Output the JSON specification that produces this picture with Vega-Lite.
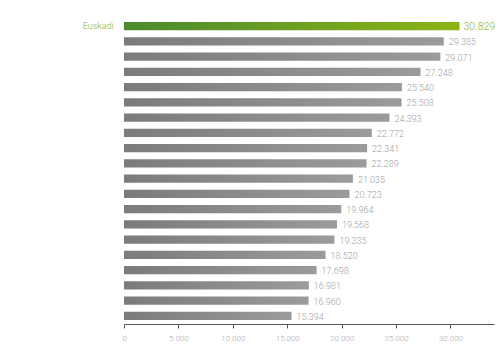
{
  "$schema": "https://vega.github.io/schema/vega-lite/v6.json",
  "width": 370,
  "height": 306,
  "autosize": "none",
  "padding": {"left": 124, "top": 18, "right": 8, "bottom": 32},
  "background": "white",
  "config": {"view": {"stroke": null}, "font": "Roboto"},
  "data": {"values": [
    {"rank": 1, "name": "Euskadi", "value": 30829, "label": "30.829"},
    {"rank": 2, "name": "", "value": 29385, "label": "29.385"},
    {"rank": 3, "name": "", "value": 29071, "label": "29.071"},
    {"rank": 4, "name": "", "value": 27248, "label": "27.248"},
    {"rank": 5, "name": "", "value": 25540, "label": "25.540"},
    {"rank": 6, "name": "", "value": 25508, "label": "25.508"},
    {"rank": 7, "name": "", "value": 24393, "label": "24.393"},
    {"rank": 8, "name": "", "value": 22772, "label": "22.772"},
    {"rank": 9, "name": "", "value": 22341, "label": "22.341"},
    {"rank": 10, "name": "", "value": 22289, "label": "22.289"},
    {"rank": 11, "name": "", "value": 21035, "label": "21.035"},
    {"rank": 12, "name": "", "value": 20723, "label": "20.723"},
    {"rank": 13, "name": "", "value": 19964, "label": "19.964"},
    {"rank": 14, "name": "", "value": 19568, "label": "19.568"},
    {"rank": 15, "name": "", "value": 19335, "label": "19.335"},
    {"rank": 16, "name": "", "value": 18520, "label": "18.520"},
    {"rank": 17, "name": "", "value": 17698, "label": "17.698"},
    {"rank": 18, "name": "", "value": 16981, "label": "16.981"},
    {"rank": 19, "name": "", "value": 16960, "label": "16.960"},
    {"rank": 20, "name": "", "value": 15394, "label": "15.394"}
  ]},
  "encoding": {
    "y": {
      "field": "rank", "type": "ordinal", "sort": "ascending",
      "scale": {"paddingInner": 0.45, "paddingOuter": 0.26},
      "axis": {
        "title": null, "domain": false, "ticks": false,
        "labelExpr": "datum.value == 1 ? 'Euskadi' : ''",
        "labelColor": "#8db52a", "labelFontSize": 9, "labelFontWeight": 300,
        "labelPadding": 11, "labelFont": "Roboto"
      }
    },
    "x": {
      "field": "value", "type": "quantitative",
      "scale": {"domain": [0, 34000], "nice": false},
      "axis": {
        "title": null, "grid": false,
        "values": [0, 5000, 10000, 15000, 20000, 25000, 30000],
        "labelExpr": "replace(format(datum.value, ',d'), ',', '.')",
        "domainColor": "#555555", "tickColor": "#555555", "tickSize": 4,
        "labelColor": "#aaaaaa", "labelFontSize": 8, "labelFontWeight": 300,
        "labelPadding": 6, "labelFlush": false
      }
    }
  },
  "layer": [
    {
      "transform": [{"filter": "datum.rank != 1"}],
      "mark": {
        "type": "bar",
        "color": {"gradient": "linear", "x1": 0, "x2": 1, "y1": 0, "y2": 0,
          "stops": [{"offset": 0, "color": "#7b7b7b"}, {"offset": 1, "color": "#9b9b9b"}]}
      }
    },
    {
      "transform": [{"filter": "datum.rank == 1"}],
      "mark": {
        "type": "bar",
        "color": {"gradient": "linear", "x1": 0, "x2": 1, "y1": 0, "y2": 0,
          "stops": [{"offset": 0, "color": "#4b8a2e"}, {"offset": 1, "color": "#8cb416"}]}
      }
    },
    {
      "transform": [{"filter": "datum.rank != 1"}],
      "mark": {"type": "text", "align": "left", "dx": 5, "dy": 1, "fontSize": 9, "fontWeight": 300, "color": "#a0a0a0"},
      "encoding": {"text": {"field": "label"}}
    },
    {
      "transform": [{"filter": "datum.rank == 1"}],
      "mark": {"type": "text", "align": "left", "dx": 4, "dy": 1, "fontSize": 10.5, "fontWeight": 300, "color": "#8db52a"},
      "encoding": {"text": {"field": "label"}}
    }
  ]
}
